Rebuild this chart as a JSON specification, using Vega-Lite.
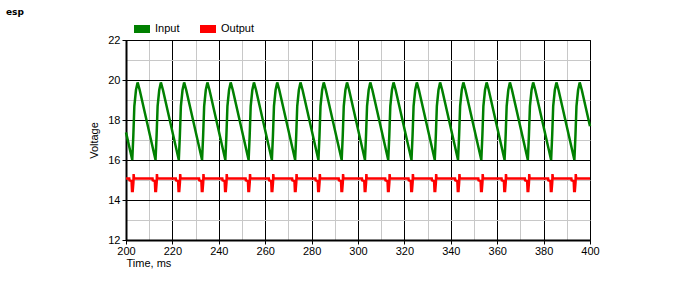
{
  "$schema": "https://vega.github.io/schema/vega-lite/v6.json",
  "autosize": {"type": "none"},
  "width": 464,
  "height": 200,
  "padding": {"left": 126, "top": 40, "right": 110, "bottom": 60},
  "background": "#ffffff",
  "title": {"text": "esp", "anchor": "start", "frame": "group", "dx": -120, "offset": 6, "dy": 11, "baseline": "bottom", "fontSize": 9, "fontWeight": "bold", "font": "DejaVu Sans", "color": "#000000"},
  "config": {
    "view": {"stroke": "#000000", "strokeWidth": 1},
    "font": "Liberation Sans"
  },
  "datasets": {
    "input": [
      {"t":200,"v":17.38},
      {"t":202.70,"v":16.0},{"t":203.15,"v":17.2},{"t":203.60,"v":18.7},{"t":204.30,"v":19.5},{"t":205.00,"v":19.88},{"t":205.90,"v":19.5},
      {"t":212.73,"v":16.0},{"t":213.18,"v":17.2},{"t":213.63,"v":18.7},{"t":214.33,"v":19.5},{"t":215.03,"v":19.88},{"t":215.93,"v":19.5},
      {"t":222.76,"v":16.0},{"t":223.21,"v":17.2},{"t":223.66,"v":18.7},{"t":224.36,"v":19.5},{"t":225.06,"v":19.88},{"t":225.96,"v":19.5},
      {"t":232.79,"v":16.0},{"t":233.24,"v":17.2},{"t":233.69,"v":18.7},{"t":234.39,"v":19.5},{"t":235.09,"v":19.88},{"t":235.99,"v":19.5},
      {"t":242.82,"v":16.0},{"t":243.27,"v":17.2},{"t":243.72,"v":18.7},{"t":244.42,"v":19.5},{"t":245.12,"v":19.88},{"t":246.02,"v":19.5},
      {"t":252.85,"v":16.0},{"t":253.30,"v":17.2},{"t":253.75,"v":18.7},{"t":254.45,"v":19.5},{"t":255.15,"v":19.88},{"t":256.05,"v":19.5},
      {"t":262.88,"v":16.0},{"t":263.33,"v":17.2},{"t":263.78,"v":18.7},{"t":264.48,"v":19.5},{"t":265.18,"v":19.88},{"t":266.08,"v":19.5},
      {"t":272.91,"v":16.0},{"t":273.36,"v":17.2},{"t":273.81,"v":18.7},{"t":274.51,"v":19.5},{"t":275.21,"v":19.88},{"t":276.11,"v":19.5},
      {"t":282.94,"v":16.0},{"t":283.39,"v":17.2},{"t":283.84,"v":18.7},{"t":284.54,"v":19.5},{"t":285.24,"v":19.88},{"t":286.14,"v":19.5},
      {"t":292.97,"v":16.0},{"t":293.42,"v":17.2},{"t":293.87,"v":18.7},{"t":294.57,"v":19.5},{"t":295.27,"v":19.88},{"t":296.17,"v":19.5},
      {"t":303.00,"v":16.0},{"t":303.45,"v":17.2},{"t":303.90,"v":18.7},{"t":304.60,"v":19.5},{"t":305.30,"v":19.88},{"t":306.20,"v":19.5},
      {"t":313.03,"v":16.0},{"t":313.48,"v":17.2},{"t":313.93,"v":18.7},{"t":314.63,"v":19.5},{"t":315.33,"v":19.88},{"t":316.23,"v":19.5},
      {"t":323.06,"v":16.0},{"t":323.51,"v":17.2},{"t":323.96,"v":18.7},{"t":324.66,"v":19.5},{"t":325.36,"v":19.88},{"t":326.26,"v":19.5},
      {"t":333.09,"v":16.0},{"t":333.54,"v":17.2},{"t":333.99,"v":18.7},{"t":334.69,"v":19.5},{"t":335.39,"v":19.88},{"t":336.29,"v":19.5},
      {"t":343.12,"v":16.0},{"t":343.57,"v":17.2},{"t":344.02,"v":18.7},{"t":344.72,"v":19.5},{"t":345.42,"v":19.88},{"t":346.32,"v":19.5},
      {"t":353.15,"v":16.0},{"t":353.60,"v":17.2},{"t":354.05,"v":18.7},{"t":354.75,"v":19.5},{"t":355.45,"v":19.88},{"t":356.35,"v":19.5},
      {"t":363.18,"v":16.0},{"t":363.63,"v":17.2},{"t":364.08,"v":18.7},{"t":364.78,"v":19.5},{"t":365.48,"v":19.88},{"t":366.38,"v":19.5},
      {"t":373.21,"v":16.0},{"t":373.66,"v":17.2},{"t":374.11,"v":18.7},{"t":374.81,"v":19.5},{"t":375.51,"v":19.88},{"t":376.41,"v":19.5},
      {"t":383.24,"v":16.0},{"t":383.69,"v":17.2},{"t":384.14,"v":18.7},{"t":384.84,"v":19.5},{"t":385.54,"v":19.88},{"t":386.44,"v":19.5},
      {"t":393.27,"v":16.0},{"t":393.72,"v":17.2},{"t":394.17,"v":18.7},{"t":394.87,"v":19.5},{"t":395.57,"v":19.88},{"t":396.47,"v":19.5},
      {"t":400,"v":17.69}
    ],
    "output": [
      {"t":200,"v":15.08},
      {"t":201.40,"v":15.08},{"t":201.50,"v":14.98},{"t":202.40,"v":14.95},{"t":202.60,"v":14.45},{"t":202.90,"v":14.45},{"t":203.20,"v":14.9},{"t":203.30,"v":15.3},{"t":203.45,"v":15.08},
      {"t":211.43,"v":15.08},{"t":211.53,"v":14.98},{"t":212.43,"v":14.95},{"t":212.63,"v":14.45},{"t":212.93,"v":14.45},{"t":213.23,"v":14.9},{"t":213.33,"v":15.3},{"t":213.48,"v":15.08},
      {"t":221.46,"v":15.08},{"t":221.56,"v":14.98},{"t":222.46,"v":14.95},{"t":222.66,"v":14.45},{"t":222.96,"v":14.45},{"t":223.26,"v":14.9},{"t":223.36,"v":15.3},{"t":223.51,"v":15.08},
      {"t":231.49,"v":15.08},{"t":231.59,"v":14.98},{"t":232.49,"v":14.95},{"t":232.69,"v":14.45},{"t":232.99,"v":14.45},{"t":233.29,"v":14.9},{"t":233.39,"v":15.3},{"t":233.54,"v":15.08},
      {"t":241.52,"v":15.08},{"t":241.62,"v":14.98},{"t":242.52,"v":14.95},{"t":242.72,"v":14.45},{"t":243.02,"v":14.45},{"t":243.32,"v":14.9},{"t":243.42,"v":15.3},{"t":243.57,"v":15.08},
      {"t":251.55,"v":15.08},{"t":251.65,"v":14.98},{"t":252.55,"v":14.95},{"t":252.75,"v":14.45},{"t":253.05,"v":14.45},{"t":253.35,"v":14.9},{"t":253.45,"v":15.3},{"t":253.60,"v":15.08},
      {"t":261.58,"v":15.08},{"t":261.68,"v":14.98},{"t":262.58,"v":14.95},{"t":262.78,"v":14.45},{"t":263.08,"v":14.45},{"t":263.38,"v":14.9},{"t":263.48,"v":15.3},{"t":263.63,"v":15.08},
      {"t":271.61,"v":15.08},{"t":271.71,"v":14.98},{"t":272.61,"v":14.95},{"t":272.81,"v":14.45},{"t":273.11,"v":14.45},{"t":273.41,"v":14.9},{"t":273.51,"v":15.3},{"t":273.66,"v":15.08},
      {"t":281.64,"v":15.08},{"t":281.74,"v":14.98},{"t":282.64,"v":14.95},{"t":282.84,"v":14.45},{"t":283.14,"v":14.45},{"t":283.44,"v":14.9},{"t":283.54,"v":15.3},{"t":283.69,"v":15.08},
      {"t":291.67,"v":15.08},{"t":291.77,"v":14.98},{"t":292.67,"v":14.95},{"t":292.87,"v":14.45},{"t":293.17,"v":14.45},{"t":293.47,"v":14.9},{"t":293.57,"v":15.3},{"t":293.72,"v":15.08},
      {"t":301.70,"v":15.08},{"t":301.80,"v":14.98},{"t":302.70,"v":14.95},{"t":302.90,"v":14.45},{"t":303.20,"v":14.45},{"t":303.50,"v":14.9},{"t":303.60,"v":15.3},{"t":303.75,"v":15.08},
      {"t":311.73,"v":15.08},{"t":311.83,"v":14.98},{"t":312.73,"v":14.95},{"t":312.93,"v":14.45},{"t":313.23,"v":14.45},{"t":313.53,"v":14.9},{"t":313.63,"v":15.3},{"t":313.78,"v":15.08},
      {"t":321.76,"v":15.08},{"t":321.86,"v":14.98},{"t":322.76,"v":14.95},{"t":322.96,"v":14.45},{"t":323.26,"v":14.45},{"t":323.56,"v":14.9},{"t":323.66,"v":15.3},{"t":323.81,"v":15.08},
      {"t":331.79,"v":15.08},{"t":331.89,"v":14.98},{"t":332.79,"v":14.95},{"t":332.99,"v":14.45},{"t":333.29,"v":14.45},{"t":333.59,"v":14.9},{"t":333.69,"v":15.3},{"t":333.84,"v":15.08},
      {"t":341.82,"v":15.08},{"t":341.92,"v":14.98},{"t":342.82,"v":14.95},{"t":343.02,"v":14.45},{"t":343.32,"v":14.45},{"t":343.62,"v":14.9},{"t":343.72,"v":15.3},{"t":343.87,"v":15.08},
      {"t":351.85,"v":15.08},{"t":351.95,"v":14.98},{"t":352.85,"v":14.95},{"t":353.05,"v":14.45},{"t":353.35,"v":14.45},{"t":353.65,"v":14.9},{"t":353.75,"v":15.3},{"t":353.90,"v":15.08},
      {"t":361.88,"v":15.08},{"t":361.98,"v":14.98},{"t":362.88,"v":14.95},{"t":363.08,"v":14.45},{"t":363.38,"v":14.45},{"t":363.68,"v":14.9},{"t":363.78,"v":15.3},{"t":363.93,"v":15.08},
      {"t":371.91,"v":15.08},{"t":372.01,"v":14.98},{"t":372.91,"v":14.95},{"t":373.11,"v":14.45},{"t":373.41,"v":14.45},{"t":373.71,"v":14.9},{"t":373.81,"v":15.3},{"t":373.96,"v":15.08},
      {"t":381.94,"v":15.08},{"t":382.04,"v":14.98},{"t":382.94,"v":14.95},{"t":383.14,"v":14.45},{"t":383.44,"v":14.45},{"t":383.74,"v":14.9},{"t":383.84,"v":15.3},{"t":383.99,"v":15.08},
      {"t":391.97,"v":15.08},{"t":392.07,"v":14.98},{"t":392.97,"v":14.95},{"t":393.17,"v":14.45},{"t":393.47,"v":14.45},{"t":393.77,"v":14.9},{"t":393.87,"v":15.3},{"t":394.02,"v":15.08},
      {"t":400,"v":15.08}
    ]
  },
  "encoding": {
    "x": {
      "field": "t", "type": "quantitative",
      "scale": {"domain": [200, 400], "nice": false, "zero": false},
      "axis": {
        "values": [200,210,220,230,240,250,260,270,280,290,300,310,320,330,340,350,360,370,380,390,400],
        "labelExpr": "datum.value % 20 === 0 ? datum.label : ''",
        "grid": true,
        "gridColor": {"condition": {"test": "datum.value % 20 === 0", "value": "#000000"}, "value": "#c8c8c8"},
        "gridOpacity": 1,
        "gridWidth": 1,
        "tickColor": {"condition": {"test": "datum.value % 20 === 0", "value": "#000000"}, "value": "transparent"},
        "tickSize": 4,
        "domainColor": "#000000",
        "domainWidth": 2,
        "labelFont": "Liberation Sans",
        "labelFontSize": 11,
        "labelColor": "#000000",
        "labelPadding": 1,
        "labelFlush": false,
        "title": "Time, ms",
        "titleFont": "Liberation Sans",
        "titleFontSize": 11,
        "titleFontWeight": "normal",
        "titleColor": "#000000",
        "titleAnchor": "start",
        "titleAlign": "left",
        "titlePadding": 1
      }
    },
    "y": {
      "field": "v", "type": "quantitative",
      "scale": {"domain": [12, 22], "nice": false, "zero": false},
      "axis": {
        "values": [12,13,14,15,16,17,18,19,20,21,22],
        "labelExpr": "datum.value % 2 === 0 ? datum.label : ''",
        "grid": true,
        "gridColor": {"condition": {"test": "datum.value % 2 === 0", "value": "#000000"}, "value": "#c8c8c8"},
        "gridOpacity": 1,
        "gridWidth": 1,
        "tickColor": {"condition": {"test": "datum.value % 2 === 0", "value": "#000000"}, "value": "transparent"},
        "tickSize": 4,
        "domainColor": "#000000",
        "domainWidth": 2,
        "labelFont": "Liberation Sans",
        "labelFontSize": 11,
        "labelColor": "#000000",
        "labelPadding": 2,
        "labelFlush": false,
        "title": "Voltage",
        "titleFont": "Liberation Sans",
        "titleFontSize": 11,
        "titleFontWeight": "normal",
        "titleColor": "#000000",
        "titlePadding": 8
      }
    }
  },
  "layer": [
    {
      "data": {"name": "input"},
      "mark": {"type": "line", "strokeWidth": 2.5, "interpolate": "linear"},
      "encoding": {
        "color": {
          "datum": "Input",
          "scale": {"domain": ["Input", "Output"], "range": ["#008000", "#ff0000"]},
          "legend": {
            "title": null,
            "orient": "none",
            "legendX": 8,
            "legendY": -19,
            "direction": "horizontal",
            "symbolType": "M-1,-0.5H1V0.5H-1Z",
            "symbolSize": 256,
            "symbolStrokeWidth": 0,
            "labelFont": "Liberation Sans",
            "labelFontSize": 11,
            "labelColor": "#000000",
            "labelOffset": 5,
            "columnPadding": 20,
            "encode": {"symbols": {"update": {"fill": {"scale": "color", "field": "value"}, "strokeWidth": {"value": 0}, "opacity": {"value": 1}}}}
          }
        }
      }
    },
    {
      "data": {"name": "output"},
      "mark": {"type": "line", "strokeWidth": 2.5, "interpolate": "linear"},
      "encoding": {
        "color": {"datum": "Output"}
      }
    }
  ]
}
